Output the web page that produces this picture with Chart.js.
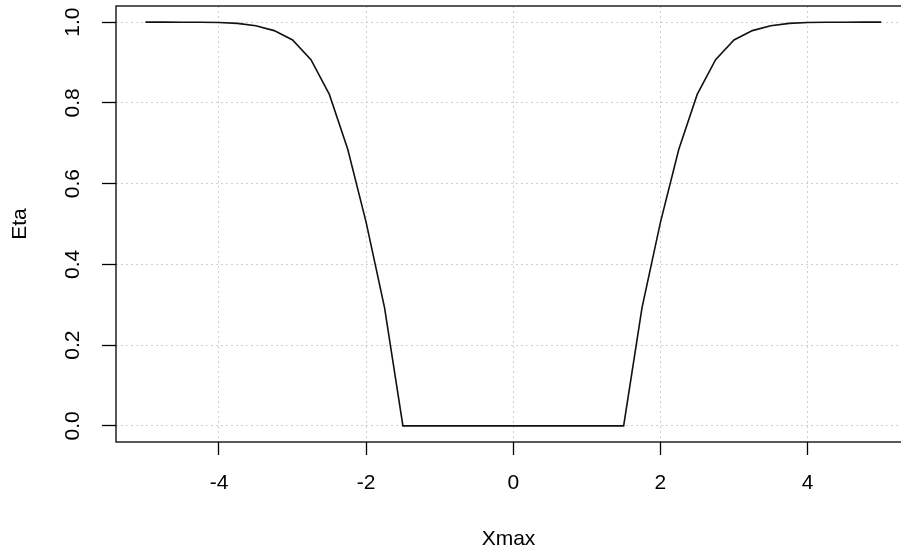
<!DOCTYPE html>
<html>
<head>
<meta charset="utf-8">
<script src="https://cdn.jsdelivr.net/npm/chart.js@4/dist/chart.umd.min.js"></script>
<style>
  html, body { margin: 0; padding: 0; background: #fff; }
</style>
</head>
<body>
<canvas id="eta_chart" width="901" height="551"></canvas>
<script>
// -------------------- data
var xmax = [-5, -4.75, -4.5, -4.25, -4, -3.75, -3.5, -3.25, -3, -2.75, -2.5, -2.25, -2, -1.75, -1.5,
            -1.25, -1, -0.75, -0.5, -0.25, 0, 0.25, 0.5, 0.75, 1, 1.25,
            1.5, 1.75, 2, 2.25, 2.5, 2.75, 3, 3.25, 3.5, 3.75, 4, 4.25, 4.5, 4.75, 5];
var eta = [1.0, 1.0, 0.9999, 0.9997, 0.999, 0.997, 0.991, 0.979, 0.956, 0.907, 0.821, 0.685, 0.504, 0.293, 0,
           0, 0, 0, 0, 0, 0, 0, 0, 0, 0, 0,
           0, 0.293, 0.504, 0.685, 0.821, 0.907, 0.956, 0.979, 0.991, 0.997, 0.999, 0.9997, 0.9999, 1.0, 1.0];
var xTicks = [-4, -2, 0, 2, 4];
var yTicks = [0, 0.2, 0.4, 0.6, 0.8, 1.0];
var yTickLabels = ['0.0', '0.2', '0.4', '0.6', '0.8', '1.0'];

var fnt = {family: '"Liberation Sans", Arial, sans-serif', size: 21, lineHeight: 1};
var gridCol = '#cfcfcf';

var pts = [];
for (var i = 0; i < xmax.length; i++) pts.push({x: xmax[i], y: eta[i]});

// box round the plot + rotated y labels (R style)
var rBox = {
  id: 'rBox',
  afterDraw: function(chart){
    var ctx = chart.ctx, a = chart.chartArea, ys = chart.scales.y;
    ctx.save();
    ctx.strokeStyle = '#000';
    ctx.lineWidth = 1.3;
    ctx.strokeRect(a.left, a.top, a.right - a.left + 5, a.bottom - a.top);
    ctx.fillStyle = '#000';
    ctx.font = '21px "Liberation Sans", Arial, sans-serif';
    ctx.textAlign = 'center';
    ctx.textBaseline = 'middle';
    for (var i = 0; i < yTicks.length; i++) {
      ctx.save();
      ctx.translate(73, ys.getPixelForValue(yTicks[i]));
      ctx.rotate(-Math.PI / 2);
      ctx.fillText(yTickLabels[i], 0, 0);
      ctx.restore();
    }
    ctx.restore();
  }
};

var ctx = document.getElementById('eta_chart').getContext('2d');
window.eta_chart = new Chart(ctx, {
  type: 'scatter',
  data: {
    datasets: [{
      data: pts,
      showLine: true,
      borderColor: '#111',
      borderWidth: 1.6,
      pointRadius: 0,
      fill: false,
      tension: 0
    }]
  },
  options: {
    responsive: false,
    animation: false,
    layout: {padding: {top: 6, right: 0, left: 0, bottom: 0}},
    plugins: {legend: {display: false}, tooltip: {enabled: false}},
    scales: {
      x: {
        type: 'linear',
        min: -5.4, max: 5.27,
        afterBuildTicks: function(s){ s.ticks = xTicks.map(function(v){ return {value: v}; }); },
        afterFit: function(s){ s.height = 109; },
        grid: {color: gridCol, lineWidth: 1, drawTicks: true, tickLength: 13, tickColor: '#000', tickWidth: 1.3, tickBorderDash: []},
        border: {display: false, dash: [2, 3]},
        ticks: {color: '#000', font: fnt, padding: 18, maxRotation: 0,
                callback: function(v){ return String(v); }},
        title: {display: true, text: 'Xmax', color: '#000', font: fnt, padding: {top: 0, bottom: 1}}
      },
      y: {
        type: 'linear',
        min: -0.04, max: 1.04,
        afterBuildTicks: function(s){ s.ticks = yTicks.map(function(v){ return {value: v}; }); },
        afterFit: function(s){ s.width = 116; },
        grid: {color: gridCol, lineWidth: 1, drawTicks: true, tickLength: 14, tickColor: '#000', tickWidth: 1.3, tickBorderDash: []},
        border: {display: false, dash: [2, 3]},
        ticks: {display: false},
        title: {display: true, text: 'Eta', color: '#000', font: fnt, padding: {top: 10, bottom: 0}}
      }
    }
  },
  plugins: [rBox]
});
</script>
</body>
</html>
